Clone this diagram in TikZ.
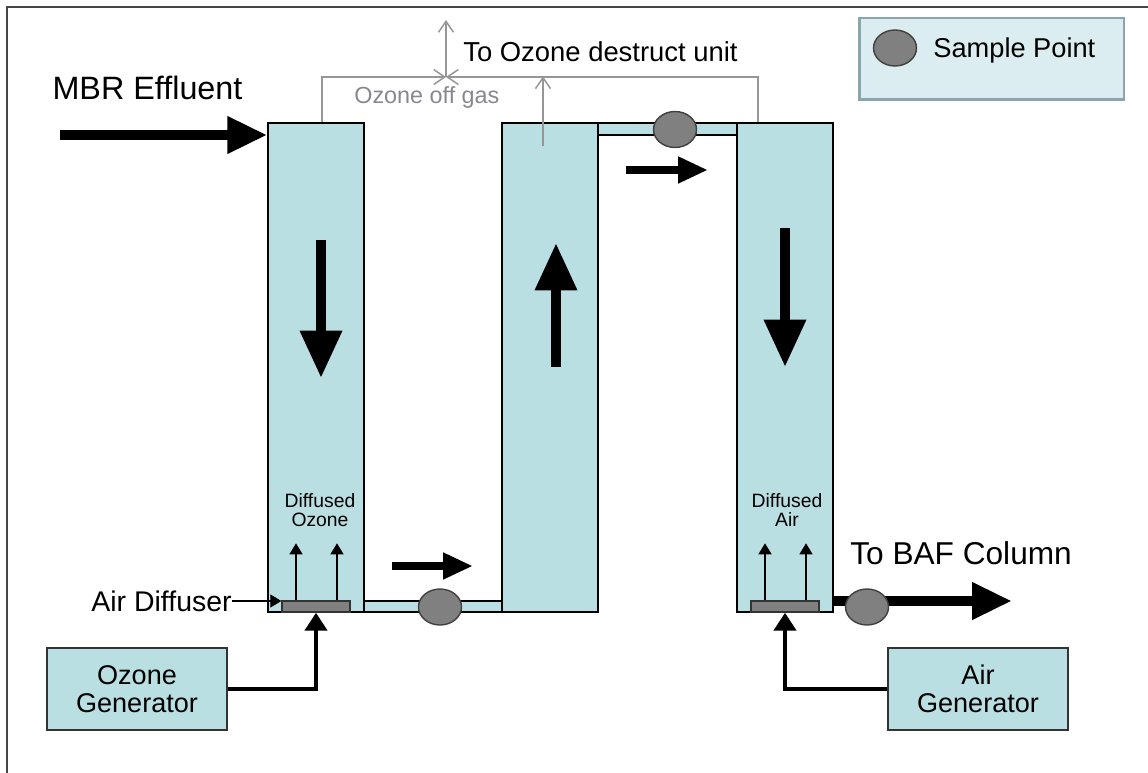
\documentclass[tikz,border=0pt]{standalone}
\usepackage{fontspec}
\setmainfont{Liberation Sans}
\usetikzlibrary{arrows.meta,shapes.geometric}
\definecolor{FillTank}{RGB}{185,223,227}
\definecolor{FillKey}{RGB}{219,237,240}
\definecolor{EdgeKey}{RGB}{138,166,170}
\definecolor{FillProbe}{RGB}{128,128,128}
\definecolor{GasLine}{RGB}{150,150,150}
\definecolor{GasText}{RGB}{135,135,145}
\definecolor{Frame}{RGB}{70,70,70}

\begin{document}
\begin{tikzpicture}[x=0.02cm, y=-0.02cm,
    tank/.style={draw, line width=0.8pt, fill=FillTank, minimum width=1.92cm, minimum height=9.78cm, inner sep=0pt},
    pipe/.style={draw, line width=0.8pt, fill=FillTank, minimum height=0.22cm, inner sep=0pt},
    diffuser/.style={draw=black!80, line width=0.8pt, fill=FillProbe, minimum width=1.36cm, minimum height=0.22cm, inner sep=0pt},
    probe/.style={ellipse, draw=black!75, line width=0.8pt, fill=FillProbe, minimum width=0.86cm, minimum height=0.72cm, inner sep=0pt},
    gen/.style={draw=black!80, line width=0.8pt, fill=FillTank, minimum width=3.6cm, minimum height=1.64cm, align=center, font=\fontsize{15.4}{16}\selectfont},
    lbl/.style={inner sep=0pt},
    bigarr/.style={-{Triangle[length=0.8cm, width=0.7cm]}, line width=5.7pt},
    colarr/.style={-{Triangle[length=0.95cm, width=0.8cm]}, line width=5.7pt},
    smallarr/.style={-{Triangle[length=0.6cm, width=0.5cm]}, line width=4.5pt},
    feed/.style={-{Triangle[length=0.36cm, width=0.44cm]}, line width=2.8pt},
    thinarr/.style={-{Triangle[length=0.22cm, width=0.26cm]}, line width=0.75pt},
    gas/.style={-{Straight Barb[length=0.22cm, width=0.3cm]}, draw=GasLine, line width=0.85pt}
  ]
  \useasboundingbox (0,0) rectangle (1148,773);
  \draw[Frame, line width=1.1pt] (1148,7) -- (7,7) -- (7,773);

  % pipes first, columns on top of their ends
  \node[pipe, minimum width=2.76cm] (pipelow) at (433,606.5) {};
  \node[pipe, minimum width=2.78cm, minimum height=0.24cm] (pipetop) at (667.5,129) {};
  \node[tank] (ozcol)  at (316,367.5) {};
  \node[tank] (retcol) at (550,367.5) {};
  \node[tank] (aircol) at (785,367.5) {};
  \node[diffuser] (ozdif)  at (316,606.5) {};
  \node[diffuser] (airdif) at (785,606.5) {};

  % off gas
  \coordinate (junc) at (446,77);
  \coordinate (vent) at (446,20);
  \draw[gas] ([xshift=0.12cm]ozcol.north) |- (junc);
  \draw[gas] ([xshift=-0.54cm]aircol.north) |- (junc);
  \draw[gas] (junc) -- (vent);
  \draw[gas] ([xshift=-0.14cm, yshift=-0.48cm]retcol.north) -- ++(0,-70);
  \node[lbl, anchor=west, font=\fontsize{15.6}{18}\selectfont] (destruct) at (463,52) {To Ozone destruct unit};
  \node[lbl, anchor=west, text=GasText, font=\fontsize{13.3}{15}\selectfont] (offgas) at (354,97) {Ozone off gas};

  % water flow
  \coordinate (mbrin) at (60,135);
  \node[lbl, font=\fontsize{18.4}{20}\selectfont] (mbr) at (147.5,88) {MBR Effluent};
  \draw[bigarr] (mbrin) -- (mbrin -| ozcol.west);
  \draw[colarr] (321,240) -- (321,378);
  \draw[colarr] (556,367) -- (556,243);
  \draw[colarr] (785,228) -- (785,367);
  \draw[smallarr] (392,566) -- (473,566);
  \draw[smallarr] (626,170) -- (708,170);
  \coordinate (bafout) at (1012,601);
  \draw[bigarr] (bafout -| aircol.east) -- (bafout);
  \node[lbl, anchor=west, font=\fontsize{18}{20}\selectfont] (baf) at (850,553) {To BAF Column};

  \node[probe] (splow) at (440,607) {};
  \node[probe] (sptop) at (675,129.5) {};
  \node[probe] (spout) at (867,607) {};

  % diffusers and gas feed
  \foreach \s in {-0.4cm,0.42cm}
    \draw[thinarr] ([xshift=\s]ozdif.north) -- ++(0,-57);
  \foreach \s in {-0.4cm,0.42cm}
    \draw[thinarr] ([xshift=\s]airdif.north) -- ++(0,-57);
  \node[lbl, align=center, font=\fontsize{11}{10.5}\selectfont] (ozlbl) at (320,510) {Diffused\\Ozone};
  \node[lbl, align=center, font=\fontsize{11}{10.5}\selectfont] (airlbl) at (787,510) {Diffused\\Air};
  \node[lbl, anchor=east, font=\fontsize{16.2}{18}\selectfont] (difflbl) at (232,601) {Air Diffuser};
  \draw[thinarr] (difflbl.east) -- (difflbl.east -| ozdif.west);

  \node[gen] (ozgen)  at (137,689) {Ozone\\Generator};
  \node[gen] (airgen) at (978,689) {Air\\Generator};
  \draw[feed] (ozgen.east) -| (ozdif.south);
  \draw[feed] (airgen.west) -| (airdif.south);

  % key
  \node[draw=EdgeKey, line width=1.7pt, fill=FillKey, minimum width=5.3cm, minimum height=1.64cm] (key) at (991.5,59) {};
  \node[probe] (keyprobe) at (895,48) {};
  \node[lbl, anchor=west, font=\fontsize{15.5}{18}\selectfont] (keytext) at (933,50) {Sample Point};
\end{tikzpicture}
\end{document}
